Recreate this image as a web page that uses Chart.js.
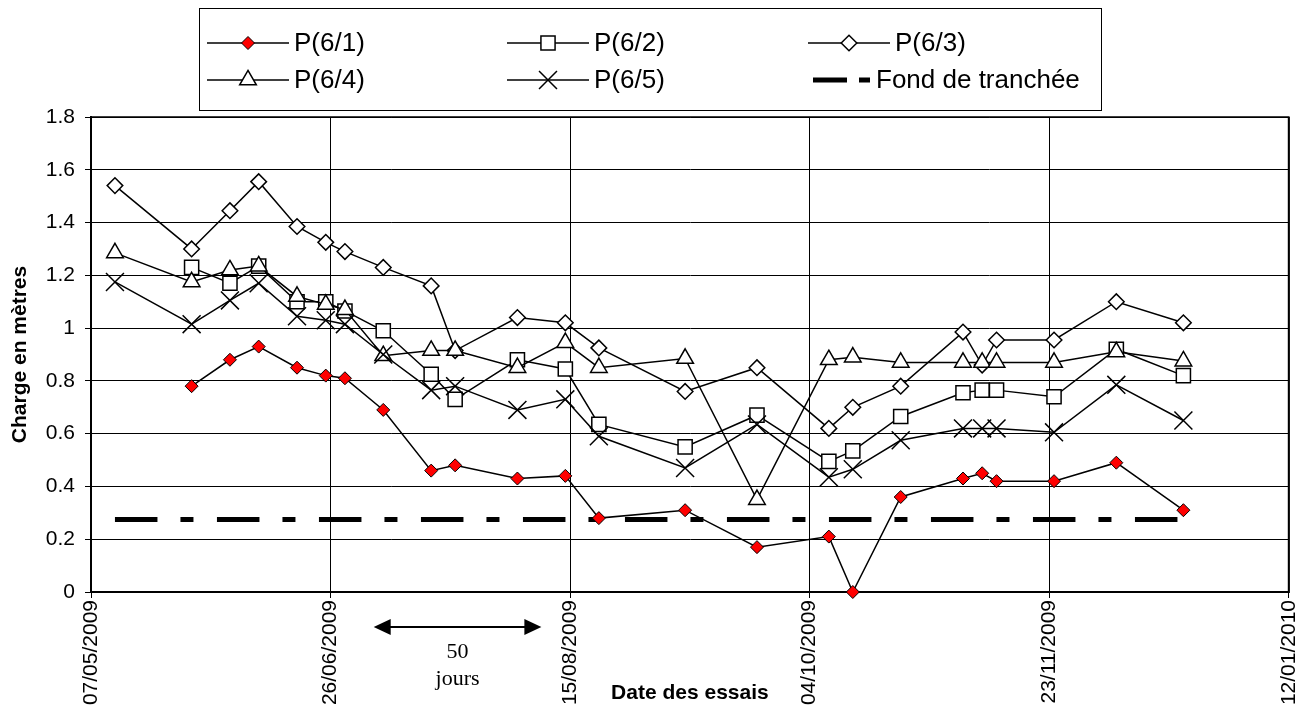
<!DOCTYPE html>
<html><head><meta charset="utf-8">
<script src="https://cdn.jsdelivr.net/npm/chart.js@4/dist/chart.umd.min.js"></script>
<style>html,body{margin:0;padding:0;background:#fff}#wrap{position:relative;width:1316px;height:717px}</style>
</head><body><div id="wrap"><canvas id="c" width="1316" height="717"></canvas></div>
<script>
// ---- data ----
const xTickLabels = ['07/05/2009','26/06/2009','15/08/2009','04/10/2009','23/11/2009','12/01/2010'];
const yTickLabels = ['0','0.2','0.4','0.6','0.8','1','1.2','1.4','1.6','1.8'];
const dates = ['12/05/2009','28/05/2009','05/06/2009','11/06/2009','19/06/2009','25/06/2009','29/06/2009','07/07/2009','17/07/2009','22/07/2009','04/08/2009','14/08/2009','21/08/2009','08/09/2009','23/09/2009','08/10/2009','13/10/2009','23/10/2009','05/11/2009','09/11/2009','12/11/2009','24/11/2009','07/12/2009','21/12/2009'];
const p61 = [null,0.78,0.88,0.93,0.85,0.82,0.81,0.69,0.46,0.48,0.43,0.44,0.28,0.31,0.17,0.21,0.00,0.36,0.43,0.45,0.42,0.42,0.49,0.31];
const p62 = [null,1.23,1.17,1.235,1.10,1.10,1.065,0.99,0.825,0.73,0.88,0.845,0.635,0.55,0.67,0.495,0.535,0.665,0.755,0.765,0.765,0.74,0.92,0.82];
const p63 = [1.54,1.30,1.445,1.555,1.385,1.325,1.29,1.23,1.16,0.915,1.04,1.02,0.925,0.76,0.85,0.62,0.70,0.78,0.985,0.86,0.955,0.955,1.10,1.02];
const p64 = [1.285,1.175,1.22,1.235,1.12,1.09,1.07,0.895,0.915,0.915,0.85,0.945,0.85,0.885,0.35,0.88,0.89,0.87,0.87,0.87,0.87,0.87,0.91,0.875];
const p65 = [1.175,1.015,1.105,1.17,1.045,1.03,1.015,0.90,0.765,0.78,0.69,0.73,0.59,0.47,0.635,0.435,0.465,0.575,0.62,0.62,0.62,0.605,0.785,0.65];
const fondDates = ['12/05/2009','21/12/2009'];
const fondValues = [0.275,0.275];
const seriesNames = ['P(6/1)','P(6/2)','P(6/3)','P(6/4)','P(6/5)','Fond de tranchée'];
const arrowDays = [59, 94];
const arrowText = ['50','jours'];
const xTitle = 'Date des essais';
const yTitle = 'Charge en mètres';

// ---- helpers ----
function dayNum(s){const [d,m,y]=s.split('/').map(Number);const [d0,m0,y0]=xTickLabels[0].split('/').map(Number);return Math.round((Date.UTC(y,m-1,d)-Date.UTC(y0,m0-1,d0))/86400000);}
function pts(ds, vals){const out=[];ds.forEach((s,i)=>{if(vals[i]!==null)out.push({x:dayNum(s),y:vals[i]});});return out;}
const FONT='"Liberation Sans", Arial, sans-serif';

const common = {borderColor:'#000',borderWidth:1.5,pointBorderColor:'#000',pointBorderWidth:1.5,pointBackgroundColor:'#fff',fill:false,tension:0,clip:false};
const datasets = [
  Object.assign({},common,{label:seriesNames[0],data:pts(dates,p61),pointStyle:'rectRot',pointRadius:6.5,pointBackgroundColor:'#ff0000',pointBorderWidth:1,order:0}),
  Object.assign({},common,{label:seriesNames[1],data:pts(dates,p62),pointStyle:'rect',pointRadius:10,order:4}),
  Object.assign({},common,{label:seriesNames[2],data:pts(dates,p63),pointStyle:'rectRot',pointRadius:7.8,order:3}),
  Object.assign({},common,{label:seriesNames[3],data:pts(dates,p64),pointStyle:'triangle',pointRadius:9.6,order:2}),
  Object.assign({},common,{label:seriesNames[4],data:pts(dates,p65),pointStyle:'crossRot',pointRadius:12.7,order:1}),
  {label:seriesNames[5],data:pts(fondDates,fondValues),borderColor:'#000',borderWidth:5,borderDash:[42.5,23,13,23.5],borderCapStyle:'butt',pointRadius:0,fill:false,order:5,clip:false}
];

function mark(ctx, ds, x, y){
  ctx.save();
  ctx.fillStyle = ds.pointBackgroundColor; ctx.strokeStyle = ds.pointBorderColor; ctx.lineWidth = ds.pointBorderWidth;
  Chart.helpers.drawPoint(ctx,{pointStyle:ds.pointStyle,radius:ds.pointRadius,rotation:0,borderWidth:ds.pointBorderWidth},x,y);
  ctx.restore();
}

const decor = {
  id:'decor',
  beforeDatasetsDraw(chart){
    const ctx=chart.ctx,a=chart.chartArea;
    ctx.save();ctx.strokeStyle='#000';ctx.lineWidth=1.5;
    ctx.strokeRect(a.left,a.top,a.right-a.left,a.bottom-a.top);
    ctx.lineWidth=2;ctx.beginPath();ctx.moveTo(a.left,a.top);ctx.lineTo(a.left,a.bottom);ctx.lineTo(a.right,a.bottom);ctx.lineTo(a.right,a.top);ctx.stroke();
    ctx.restore();
  },
  afterDraw(chart){
    const ctx=chart.ctx; const xs=chart.scales.x;
    ctx.save();
    // legend box
    ctx.fillStyle='#fff';ctx.fillRect(199,8,903,102);
    ctx.strokeStyle='#000';ctx.lineWidth=1;ctx.strokeRect(199.5,8.5,902,102);
    const colX=[207,507,808], rowY=[43,80];
    ctx.font='26px '+FONT;ctx.textBaseline='middle';ctx.textAlign='left';
    chart.data.datasets.forEach((ds,i)=>{
      const cx=colX[i%3], cy=rowY[Math.floor(i/3)];
      if(i<5){
        ctx.strokeStyle='#000';ctx.lineWidth=1.5;ctx.setLineDash([]);
        ctx.beginPath();ctx.moveTo(cx,cy);ctx.lineTo(cx+82,cy);ctx.stroke();
        mark(ctx,ds,cx+41,cy);
        ctx.fillStyle='#000';ctx.fillText(ds.label,cx+87,cy+1);
      } else {
        ctx.fillStyle='#000';
        ctx.fillRect(813,cy-2.5,34,5);
        ctx.fillRect(859,cy-2.5,11,5);
        ctx.fillText(ds.label,876,cy+1);
      }
    });
    // 50 jours arrow
    const x1=xs.getPixelForValue(arrowDays[0]), x2=xs.getPixelForValue(arrowDays[1]), ay=627;
    ctx.strokeStyle='#000';ctx.lineWidth=2;ctx.beginPath();ctx.moveTo(x1+10,ay);ctx.lineTo(x2-10,ay);ctx.stroke();
    ctx.fillStyle='#000';
    ctx.beginPath();ctx.moveTo(x1,ay);ctx.lineTo(x1+17,ay-8);ctx.lineTo(x1+17,ay+8);ctx.closePath();ctx.fill();
    ctx.beginPath();ctx.moveTo(x2,ay);ctx.lineTo(x2-17,ay-8);ctx.lineTo(x2-17,ay+8);ctx.closePath();ctx.fill();
    ctx.font='22px "Liberation Serif", "Times New Roman", serif';ctx.textAlign='center';ctx.textBaseline='middle';
    ctx.fillText(arrowText[0],(x1+x2)/2,652);
    ctx.fillText(arrowText[1],(x1+x2)/2,679);
    ctx.restore();
  }
};

new Chart(document.getElementById('c'),{
  type:'line',
  data:{datasets},
  options:{
    responsive:false,animation:false,events:[],
    layout:{padding:{top:117,right:23,left:0,bottom:0}},
    plugins:{legend:{display:false},tooltip:{enabled:false}},
    scales:{
      x:{type:'linear',min:dayNum(xTickLabels[0]),max:dayNum(xTickLabels[xTickLabels.length-1]),
        afterFit(s){s.height=125;},
        ticks:{stepSize:50,autoSkip:false,maxRotation:90,minRotation:90,padding:2,color:'#000',font:{family:FONT,size:21},
          callback:(v,i)=>xTickLabels[i]},
        grid:{color:'#000',lineWidth:1,tickLength:6,drawTicks:true},
        border:{color:'#000',width:2},
        title:{display:true,text:xTitle,color:'#000',font:{family:FONT,size:21,weight:'bold'},padding:{top:11,bottom:11}}
      },
      y:{min:0,max:1.8,
        afterFit(s){s.width=91;},
        ticks:{stepSize:0.2,padding:10,color:'#000',font:{family:FONT,size:21},
          callback:(v)=>yTickLabels[Math.round(v/0.2)]},
        grid:{color:'#000',lineWidth:1,tickLength:6},
        border:{color:'#000',width:2},
        title:{display:true,text:yTitle,color:'#000',font:{family:FONT,size:21,weight:'bold'},padding:{top:8,bottom:8}}
      }
    }
  },
  plugins:[decor]
});
</script></body></html>
